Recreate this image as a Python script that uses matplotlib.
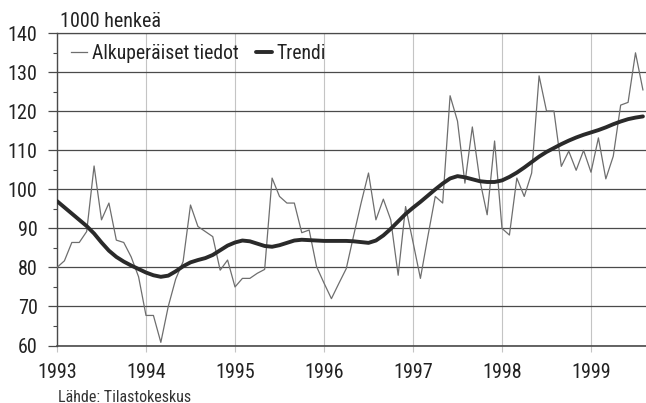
import matplotlib
matplotlib.use("Agg")
import matplotlib.pyplot as plt
from matplotlib.ticker import MultipleLocator
from matplotlib import font_manager

# ---- data (monthly, Jan 1993 .. Aug 1999) ----
start_year = 1993
original = [80, 81.7, 86.4, 86.4, 89.2, 106, 92.2, 96.5, 87, 86.4, 82.7, 77.6,
            67.7, 67.7, 60.8, 70, 77, 81.5, 96, 90.5, 89.2, 87.9, 79.3, 81.9,
            75, 77.2, 77.2, 78.5, 79.5, 102.9, 98.2, 96.5, 96.5, 88.9, 89.6, 80.2,
            76, 72, 75.9, 79.7, 88.2, 96.5, 104.2, 92.2, 97.5, 92.2, 78, 95.6,
            86.5, 77.2, 87.9, 98.2, 96.5, 124, 117.5, 101.6, 116, 102.5, 93.5, 112.4,
            90, 88.3, 102.9, 98.2, 104.2, 129.1, 120.1, 120.1, 105.9, 109.8, 104.9, 110,
            104.4, 113.2, 102.7, 108.5, 121.6, 122.3, 135, 125.5]
trend = [97, 95.4, 93.8, 92.2, 90.6, 88.7, 86.4, 84.3, 82.7, 81.5, 80.5, 79.6,
         78.7, 78.0, 77.6, 77.9, 79.0, 80.3, 81.3, 81.9, 82.4, 83.2, 84.4, 85.6,
         86.4, 86.9, 86.7, 86.1, 85.5, 85.3, 85.7, 86.3, 86.9, 87.1, 87.0, 86.9,
         86.8, 86.8, 86.8, 86.8, 86.7, 86.5, 86.3, 86.9, 88.2, 89.9, 91.8, 93.7,
         95.3, 96.8, 98.4, 100, 101.5, 102.8, 103.4, 103.1, 102.6, 102.1, 101.9, 101.9,
         102.3, 103.2, 104.3, 105.6, 107, 108.4, 109.6, 110.6, 111.6, 112.5, 113.3, 114.0,
         114.6, 115.2, 115.9, 116.7, 117.4, 118, 118.4, 118.7]
year_ticks = [1993, 1994, 1995, 1996, 1997, 1998, 1999]
y_ticks = [60, 70, 80, 90, 100, 110, 120, 130, 140]
label_original = "Alkuperäiset tiedot"
label_trend = "Trendi"
unit_label = "1000 henkeä"
source_label = "Lähde: Tilastokeskus"

x = [start_year + i / 12 for i in range(len(original))]

names = {f.name for f in font_manager.fontManager.ttflist}
fam = "Liberation Sans"
for cand in ["Liberation Sans Narrow", "Roboto Condensed", "Open Sans Condensed",
             "Noto Sans Condensed", "DejaVu Sans Condensed", "Liberation Sans"]:
    if cand in names:
        fam = cand
        break
plt.rcParams['font.family'] = [fam, 'DejaVu Sans']

W, H = 646, 403
fig = plt.figure(figsize=(W / 100, H / 100), dpi=100)
left, right, top, bottom = 57, 646, 33.3, 345.5
ax = fig.add_axes([left / W, 1 - bottom / H, (right - left) / W, (bottom - top) / H])

ax.plot(x, original, color="#6e6e6e", lw=0.9, label=label_original, zorder=3)
ax.plot(x, trend, color="#2a2a2a", lw=2.8, label=label_trend, zorder=4,
        solid_capstyle="round")

ax.set_ylim(60, 140)
ax.set_xlim(1993, 1993 + (right - left) / 89.0)
ax.set_yticks(y_ticks)
ax.yaxis.set_minor_locator(MultipleLocator(5))
ax.set_xticks(year_ticks)
ax.set_xticklabels([str(y) for y in year_ticks])

ax.grid(axis="y", which="major", color="#4a4a4a", lw=0.9, zorder=1)
ax.grid(axis="x", which="major", color="#c4c4c4", lw=0.8, zorder=1)

ax.spines["right"].set_visible(False)
ax.spines["top"].set_color("#4a4a4a")
ax.spines["top"].set_linewidth(0.9)
ax.spines["left"].set_color("#4a4a4a")
ax.spines["left"].set_linewidth(1.0)
ax.spines["bottom"].set_color("#4a4a4a")
ax.spines["bottom"].set_linewidth(1.2)

ax.tick_params(axis="y", which="major", length=6.5, width=0.9, color="#4a4a4a",
               pad=7.5, labelsize=14.5, labelcolor="#222222")
ax.tick_params(axis="y", which="minor", length=3, width=0.8, color="#4a4a4a")
ax.tick_params(axis="x", which="major", length=4, width=0.8, color="#c4c4c4",
               pad=8.5, labelsize=14.5, labelcolor="#222222")

leg = ax.legend(loc="upper left", bbox_to_anchor=(0.0, 1.01), ncol=2, frameon=False,
                handlelength=0.8, handletextpad=0.25, columnspacing=0.9,
                fontsize=14.2, borderaxespad=0.3)
for t in leg.get_texts():
    t.set_color("#222222")

fig.text(60 / W, 1 - 27 / H, unit_label, fontsize=14.5, color="#222222",
         ha="left", va="baseline")
fig.text(58 / W, 1 - 401.5 / H, source_label, fontsize=11.5, color="#333333",
         ha="left", va="baseline")

fig.savefig("out.png", dpi=100, facecolor="white")
